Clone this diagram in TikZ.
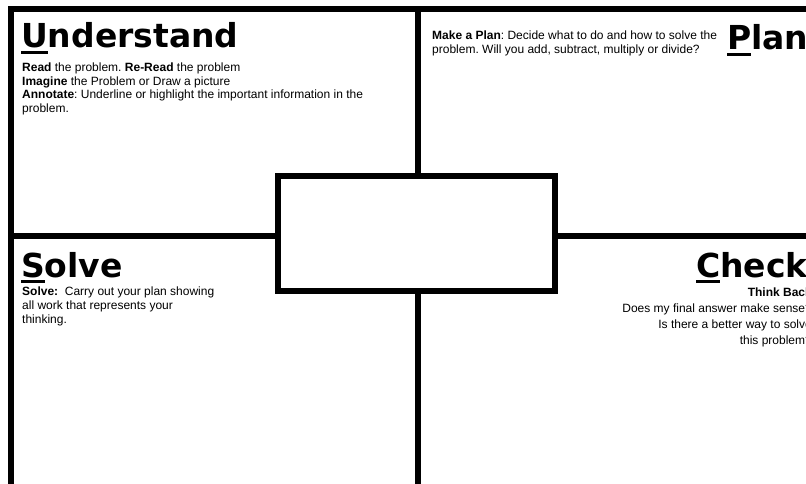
\documentclass[tikz,border=0pt]{standalone}
\usepackage{fontspec}
\setmainfont{Liberation Sans}
\newfontfamily\titlefont{DejaVu Sans}
\usetikzlibrary{positioning}
\frenchspacing
\tikzset{
    frameline/.style={line width=6pt, draw=black},
    centerbox/.style={rectangle, draw=black, line width=6pt, fill=white, minimum width=277pt, minimum height=115pt, inner sep=0pt},
    titletext/.style={anchor=base west, inner sep=0pt, font=\titlefont\bfseries\fontsize{33}{36}\selectfont},
    bodytext/.style={anchor=north west, inner sep=0pt, align=left, font=\fontsize{12}{13.7}\selectfont},
    checktext/.style={anchor=north east, inner sep=0pt, align=right, font=\fontsize{12}{16}\selectfont}
}
\newcommand\ulfirst[1]{\setbox0\hbox{#1}\rlap{\rule[-6pt]{\wd0}{3pt}}\box0}

\begin{document}
\begin{tikzpicture}[x=1pt, y=-1pt]
    \useasboundingbox (0,0) rectangle (806,484);
    \clip (0,0) rectangle (806,484);
    % frame and dividers
    \coordinate (nw) at (11,9.5);
    \coordinate (se) at (840,520);
    \coordinate (vtop) at (417.5,9.5);
    \coordinate (vbot) at (417.5,520);
    \coordinate (hleft) at (11,235.5);
    \coordinate (hright) at (840,235.5);
    \draw[frameline] (nw) rectangle (se);
    \draw[frameline] (vtop) -- (vbot);
    \draw[frameline] (hleft) -- (hright);
    \node[centerbox] (mid) at (416.5,233.5) {};

    % understand
    \node[titletext] (undtitle) at (21,48) {\ulfirst{U}nderstand};
    \node[bodytext] (undtext) at (22,62.5) {\textbf{Read} the problem. \textbf{Re-Read} the problem\\
        \textbf{Imagine} the Problem or Draw a picture\\
        \textbf{Annotate}: Underline or highlight the important information in the\\
        problem.};

    % plan
    \node[titletext] (plantitle) at (727,50) {\ulfirst{P}lan};
    \node[bodytext] (plantext) at (432,30.5) {\textbf{Make a Plan}: Decide what to do and how to solve the\\
        problem. Will you add, subtract, multiply or divide?};

    % solve
    \node[titletext] (solvetitle) at (21,277) {\ulfirst{S}olve};
    \node[bodytext] (solvetext) at (22,287) {\textbf{Solve:}\ \ Carry out your plan showing\\
        all work that represents your\\
        thinking.};

    % check
    \node[titletext] (checktitle) at (696,277) {\ulfirst{C}heck};
    \node[checktext] (checktext) at (812,288) {\textbf{Think Back}\\
        Does my final answer make sense?\\
        Is there a better way to solve\\
        this problem?};
\end{tikzpicture}
\end{document}
